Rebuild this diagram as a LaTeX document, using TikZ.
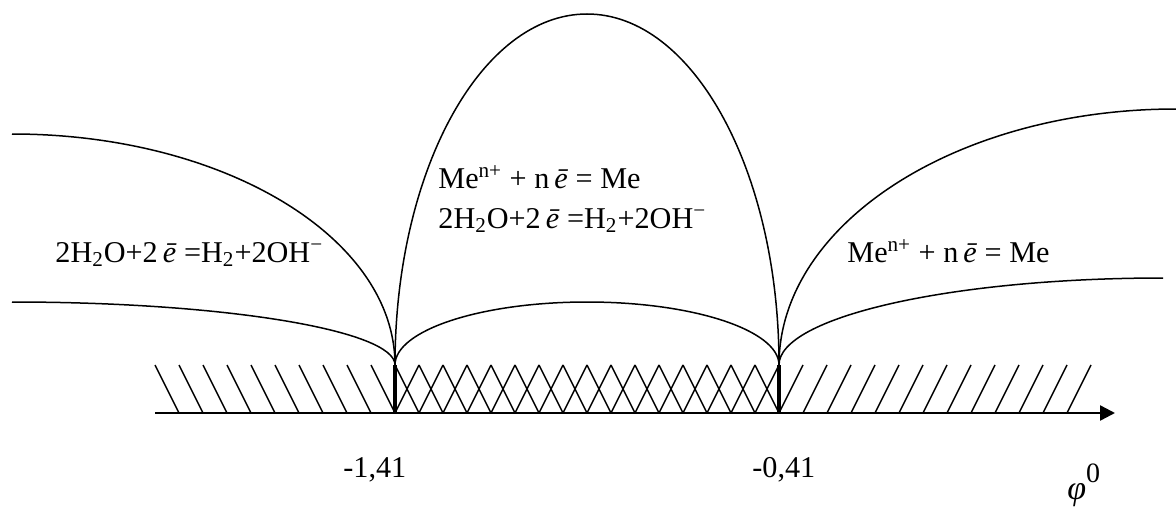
\documentclass[tikz,border=0pt]{standalone}
\usepackage{fontspec}
\setmainfont{Liberation Serif}
\usetikzlibrary{arrows.meta}
\begin{document}
\begin{tikzpicture}[x=0.5pt,y=-0.5pt,
  curve/.style={line width=0.75pt},
  hatch/.style={line width=0.75pt},
  axisline/.style={line width=1.2pt,-{Triangle[length=7.5pt,width=7.5pt]}},
  wall/.style={line width=1.7pt},
  lbl/.style={inner sep=0pt,anchor=base west,font=\fontsize{15.1}{18}\selectfont}]
\useasboundingbox (0,0) rectangle (1176,508);
% key points
\coordinate (cL) at (395,365);
\coordinate (cR) at (779,365);
\coordinate (bL) at (395,413);
\coordinate (bR) at (779,413);
\coordinate (ax0) at (155,413);
\coordinate (ax1) at (1115,413);
\coordinate (ulS) at (12,134);
\coordinate (llS) at (12,302);
\coordinate (urE) at (1176,109);
\coordinate (lrE) at (1163,278);
% hatching
\foreach \k in {0,...,9} {\draw[hatch] (155+24*\k,365) -- (179+24*\k,413);}
\foreach \k in {0,...,15} {
  \draw[hatch] (395+24*\k,365) -- (419+24*\k,413);
  \draw[hatch] (395+24*\k,413) -- (419+24*\k,365);}
\foreach \k in {0,...,12} {\draw[hatch] (779+24*\k,413) -- (803+24*\k,365);}
% axis and walls
\draw[axisline] (ax0) -- (ax1);
\draw[wall] (cL) -- (bL);
\draw[wall] (cR) -- (bR);
% curves
\draw[curve] (ulS) .. controls (223.5,134) and (395,237.4) .. (cL);
\draw[curve] (llS) .. controls (223.5,302) and (395,330.2) .. (cL);
\draw[curve] (cL) .. controls (395,171.1) and (481,14) .. (587,14)
  .. controls (693,14) and (779,171.1) .. (cR);
\draw[curve] (cL) .. controls (395,330.2) and (481,302) .. (587,302)
  .. controls (693,302) and (779,330.2) .. (cR);
\draw[curve] (cR) .. controls (779,223.6) and (957,109) .. (urE);
\draw[curve] (cR) .. controls (779,317) and (951,278) .. (lrE);
% labels
\node[lbl] (tL) at (55,262) {2H\textsubscript{2}O+2\,\textit{ē} =H\textsubscript{2}+2OH\textsuperscript{−}};
\node[lbl] (tM1) at (438,188) {Me\textsuperscript{n+} + n\,\textit{ē} = Me};
\node[lbl] (tM2) at (438,228) {2H\textsubscript{2}O+2\,\textit{ē} =H\textsubscript{2}+2OH\textsuperscript{−}};
\node[lbl] (tR) at (847,262) {Me\textsuperscript{n+} + n\,\textit{ē} = Me};
\node[lbl] (v1) at (343,477) {-1,41};
\node[lbl] (v2) at (752,477) {-0,41};
\node[lbl] (phi) at (1067,499) {{\fontsize{17}{18}\selectfont\textit{φ}}\raisebox{8.5pt}{\fontsize{14}{15}\selectfont 0}};
\end{tikzpicture}
\end{document}
